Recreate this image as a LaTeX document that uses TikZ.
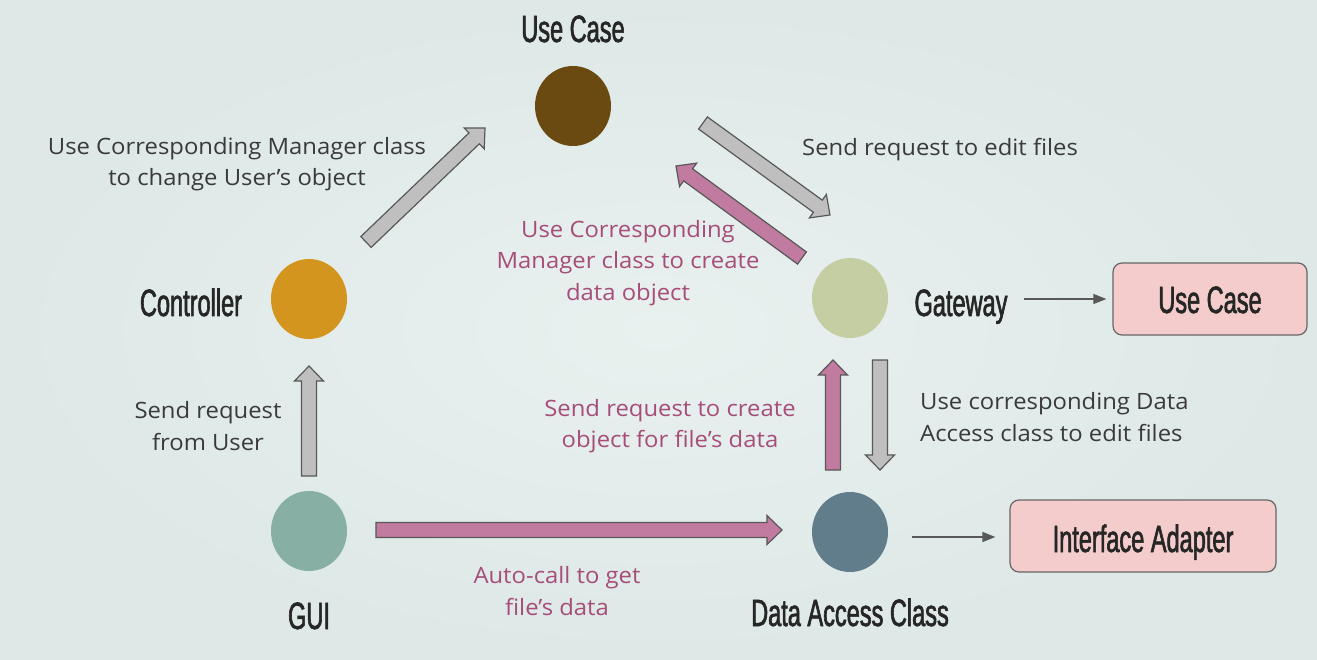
\documentclass[tikz,border=0pt]{standalone}
\usepackage{fontspec}
\setmainfont[FakeStretch=1.06]{Open Sans}
\newfontfamily\titlefont[FakeStretch=0.62,FakeBold=1.6]{Liberation Sans}
\usetikzlibrary{shapes.geometric,arrows.meta,calc}

\definecolor{bgedge}{HTML}{DDE8E7}
\definecolor{bgmid}{HTML}{E9F1EF}
\definecolor{cUse}{HTML}{6B4A12}
\definecolor{cCtrl}{HTML}{D4951F}
\definecolor{cGate}{HTML}{C5CDA2}
\definecolor{cGui}{HTML}{88AFA3}
\definecolor{cData}{HTML}{617C8A}
\definecolor{boxfill}{HTML}{F4CCCC}
\definecolor{boxline}{HTML}{666666}
\definecolor{grayfill}{HTML}{BFBFBF}
\definecolor{pinkfill}{HTML}{C27BA0}
\definecolor{arrline}{HTML}{585858}
\definecolor{pinktext}{HTML}{A64D79}
\definecolor{darktext}{HTML}{3A3A3A}
\definecolor{titletext}{HTML}{262626}

% half shaft width, half head width, head length of the block arrows
\def\shaftw{7.5pt}
\def\headw{14.5pt}
\def\headl{15pt}
\newcommand{\blockarrow}[3]{%
  \coordinate (hb) at ($(#3)!\headl!(#2)$);
  \filldraw[#1] ($(#2)!\shaftw!-90:(#3)$) -- ($(hb)!\shaftw!90:(#2)$)
    -- ($(hb)!\headw!90:(#2)$) -- (#3) -- ($(hb)!\headw!-90:(#2)$)
    -- ($(hb)!\shaftw!-90:(#2)$) -- ($(#2)!\shaftw!90:(#3)$) -- cycle;}

\tikzset{
  x=1pt, y=-1pt,
  dot/.style={ellipse, minimum width=76pt, minimum height=80pt, inner sep=0pt, draw=none},
  title/.style={font=\titlefont\fontsize{38}{40}\selectfont, text=titletext, inner sep=0pt, anchor=base},
  body/.style={font=\fontsize{22.5}{31.5}\selectfont, text=darktext, inner sep=0pt, align=center},
  pinkbody/.style={body, text=pinktext},
  layerbox/.style={draw=boxline, fill=boxfill, line width=1.2pt, rounded corners=9pt, inner sep=0pt},
  grayarrow/.style={fill=grayfill, draw=arrline, line width=1.2pt, line join=miter},
  pinkarrow/.style={fill=pinkfill, draw=arrline, line width=1.2pt, line join=miter},
  thinarrow/.style={draw=arrline, line width=1.2pt, -{Triangle[length=13pt,width=10pt]}}
}

\begin{document}
\begin{tikzpicture}
% background
\useasboundingbox (0,0) rectangle (1317,660);
\shade[inner color=bgmid, outer color=bgedge] (0,0) rectangle (1317,660);

% layer nodes
\node[dot, fill=cUse]  (uc)   at (573,106) {};
\node[dot, fill=cCtrl] (ctrl) at (309,299) {};
\node[dot, fill=cGate] (gate) at (850,298) {};
\node[dot, fill=cGui]  (gui)  at (309,531) {};
\node[dot, fill=cData] (data) at (850,532) {};

% layer names
\node[title] (ucl)   at (573,42)  {Use Case};
\node[title] (ctrll) at (191,316) {Controller};
\node[title] (gatel) at (961,316) {Gateway};
\node[title] (guil)  at (309,629) {GUI};
\node[title] (datal) at (850,626) {Data Access Class};

% layer boxes
\node[layerbox, minimum width=194pt, minimum height=72pt] (ucbox) at (1210,299) {};
\node[title] at (1210,313) {Use Case};
\node[layerbox, minimum width=266pt, minimum height=72pt] (iabox) at (1143,536) {};
\node[title] at (1143,552) {Interface Adapter};

% thin connectors
\coordinate (g0) at (1024,299);
\coordinate (d0) at (912,537);
\draw[thinarrow, shorten >=6pt] (g0) -- (ucbox.west);
\draw[thinarrow, shorten >=14pt] (d0) -- (iabox.west |- d0);

% block arrow end points
\coordinate (a1s) at (309,476); \coordinate (a1e) at (309,366);
\coordinate (a2s) at (366,242); \coordinate (a2e) at (485,128);
\coordinate (a3s) at (703,123); \coordinate (a3e) at (830,215);
\coordinate (a4s) at (802,258); \coordinate (a4e) at (676,166);
\coordinate (a5s) at (833,470); \coordinate (a5e) at (833,360);
\coordinate (a6s) at (880,360); \coordinate (a6e) at (880,470);
\coordinate (a7s) at (376,530); \coordinate (a7e) at (782,530);

\blockarrow{grayarrow}{a1s}{a1e}
\blockarrow{grayarrow}{a2s}{a2e}
\blockarrow{grayarrow}{a3s}{a3e}
\blockarrow{pinkarrow}{a4s}{a4e}
\blockarrow{pinkarrow}{a5s}{a5e}
\blockarrow{grayarrow}{a6s}{a6e}
\blockarrow{pinkarrow}{a7s}{a7e}

% connector labels
\node[body] (t1) at (237,164) {Use Corresponding Manager class\\to change User’s object};
\node[body, anchor=west] (t2) at (802,150) {Send request to edit files};
\node[pinkbody] (t3) at (628,263) {Use Corresponding\\Manager class to create\\data object};
\node[body] (t4) at (208,426) {Send request\\from User};
\node[pinkbody] (t5) at (670,426) {Send request to create\\object for file’s data};
\node[body, align=left, anchor=west] (t6) at (920,417) {Use corresponding Data\\Access class to edit files};
\node[pinkbody] (t7) at (557,591) {Auto-call to get\\file’s data};
\end{tikzpicture}
\end{document}
